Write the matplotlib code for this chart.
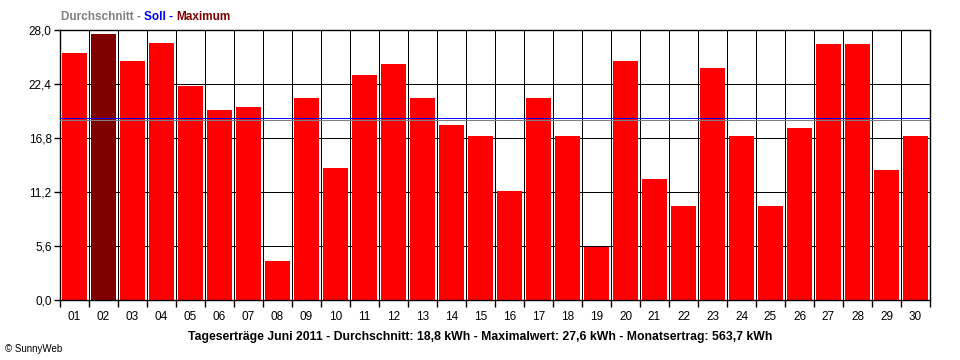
import matplotlib
matplotlib.use("Agg")
import matplotlib.pyplot as plt
import numpy as np

days = ["%02d" % d for d in range(1, 31)]
values = [25.6, 27.6, 24.8, 26.7, 22.2, 19.7, 20.0, 4.0, 20.9, 13.7,
          23.3, 24.5, 20.9, 18.1, 17.0, 11.3, 21.0, 17.0, 5.5, 24.8,
          12.6, 9.7, 24.1, 17.0, 9.8, 17.8, 26.6, 26.5, 13.5, 17.0]
average = 18.68
soll = 18.88
yticks = [0.0, 5.6, 11.2, 16.8, 22.4, 28.0]
ytick_labels = ["0,0", "5,6", "11,2", "16,8", "22,4", "28,0"]
title_text = "Tageserträge Juni 2011 - Durchschnitt: 18,8 kWh - Maximalwert: 27,6 kWh - Monatsertrag: 563,7 kWh"

plt.rcParams['font.family'] = ['Liberation Sans', 'DejaVu Sans']

fig = plt.figure(figsize=(9.6, 3.6), dpi=100)
ax = fig.add_axes([60/960, 60/360, 870/960, 270/360])

x = np.arange(1, 31)
imax = int(np.argmax(values))
colors = ["#FF0000"] * 30
colors[imax] = "#800000"

LW = 0.72
# grid
for b in np.arange(0.5, 31, 1.0):
    ax.axvline(b, color="black", lw=LW, zorder=0, antialiased=False)
for t in yticks:
    ax.axhline(t, color="black", lw=LW, zorder=0, antialiased=False)

ax.bar(x, values, width=0.89, color=colors, zorder=2, antialiased=False)
ax.axhline(average, color="#808080", lw=LW, zorder=3, antialiased=False)
ax.axhline(soll, color="#0000FF", lw=LW, zorder=3, antialiased=False)

ax.set_xlim(0.5, 30.5)
ax.set_ylim(0, 28.0)
ax.set_yticks(yticks)
ax.set_yticklabels(ytick_labels, fontsize=8.5)
ax.set_xticks(np.arange(0.5, 31, 1.0))
ax.set_xticklabels([])
ax.set_xticks(x, minor=True)
ax.set_xticklabels(days, minor=True, fontsize=8.5)
ax.tick_params(axis="x", which="minor", length=0, pad=8)
ax.tick_params(axis="x", which="major", length=5, width=1.0, direction="out")
ax.tick_params(axis="y", length=4, width=1.0, direction="out", pad=2)
for s in ax.spines.values():
    s.set_linewidth(1.0)
    s.set_color("black")

# legend line at top
r = fig.canvas.get_renderer()
t1 = fig.text(61/960, 1 - 17/360, "Durchschnitt - ", color="#808080", fontsize=8.5,
              fontweight="bold", va="center", ha="left")
bb = t1.get_window_extent(renderer=r)
t2 = fig.text(bb.x1/960, 1 - 17/360, "Soll - ", color="#0000FF", fontsize=8.5,
              fontweight="bold", va="center", ha="left")
bb2 = t2.get_window_extent(renderer=r)
fig.text(bb2.x1/960, 1 - 17/360, "Maximum", color="#800000", fontsize=8.5,
         fontweight="bold", va="center", ha="left")

fig.text(480/960, 1 - 337/360, title_text, fontsize=8.8, fontweight="bold",
         ha="center", va="center", color="black")
fig.text(5/960, 1 - 349/360, "© SunnyWeb", fontsize=7, ha="left", va="center",
         color="black")

fig.savefig("out.png", dpi=100, facecolor="white")
